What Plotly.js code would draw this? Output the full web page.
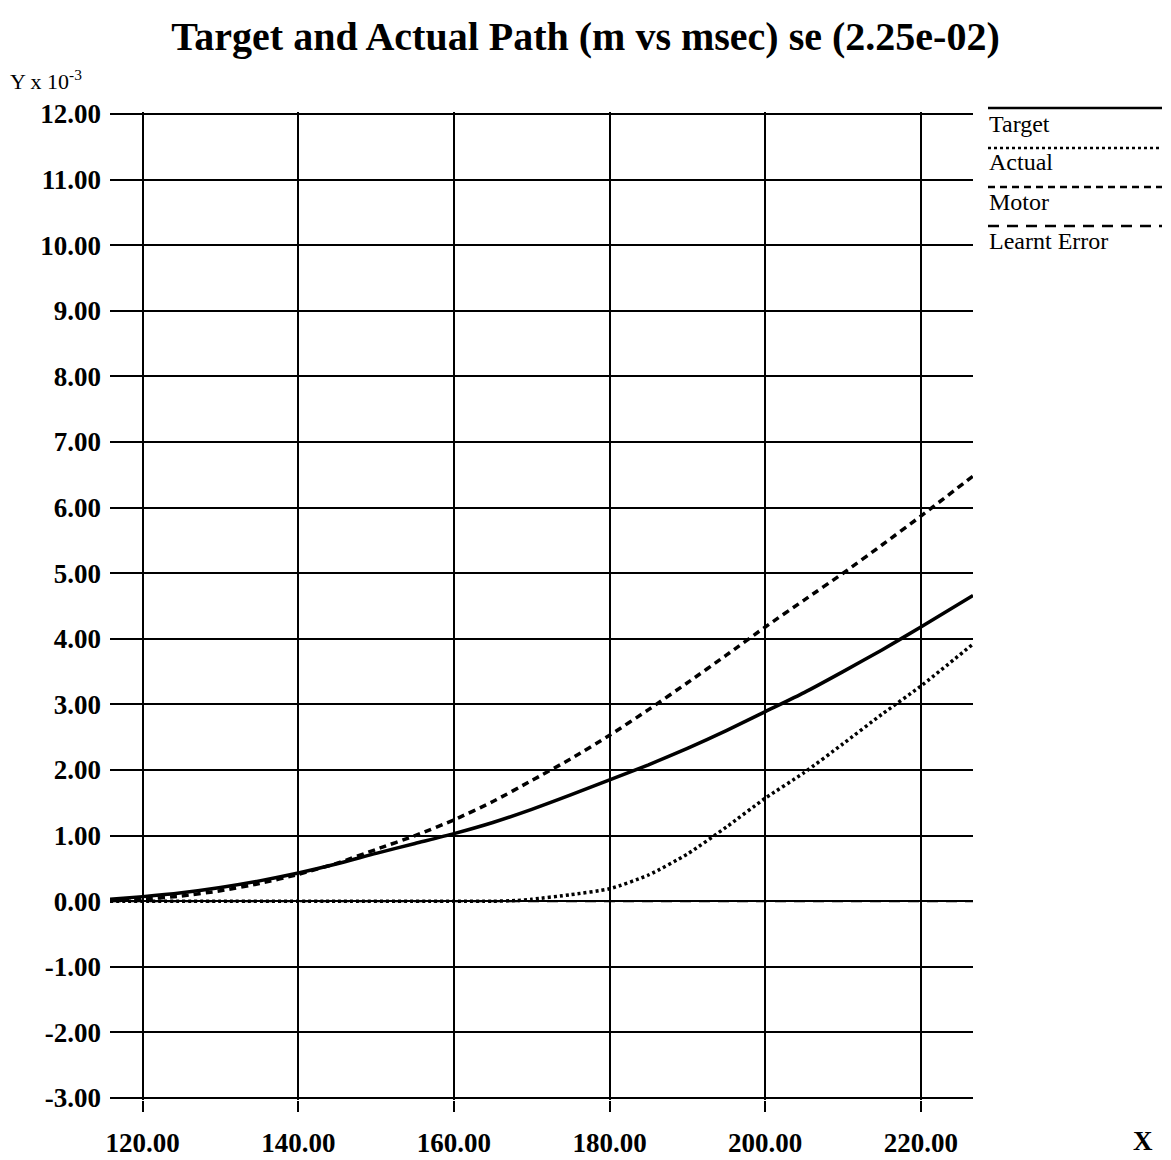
<!DOCTYPE html>
<html>
<head>
<meta charset="utf-8">
<script src="https://cdn.plot.ly/plotly-3.0.1.min.js"></script>
<style>html,body{margin:0;padding:0;background:#fff;}</style>
</head>
<body>
<div id="chart" style="width:1171px;height:1160px;"></div>
<script>
// ---- data ----
const targetX = [115.8, 120, 125, 130, 135, 140, 145, 150, 155, 160, 165, 170, 175, 180, 185, 190, 195, 200, 205, 210, 215, 220, 226.7];
const targetY = [0.03, 0.07, 0.13, 0.21, 0.31, 0.43, 0.57, 0.73, 0.88, 1.03, 1.20, 1.40, 1.62, 1.85, 2.08, 2.33, 2.60, 2.89, 3.18, 3.50, 3.83, 4.18, 4.66];

const actualX = [115.8, 130, 145, 160, 165, 168, 170, 175, 180, 185, 190, 195, 200, 205, 210, 215, 220, 226.7];
const actualY = [0.00, 0.00, 0.00, 0.00, 0.00, 0.01, 0.03, 0.10, 0.19, 0.40, 0.72, 1.13, 1.57, 1.96, 2.40, 2.85, 3.28, 3.92];

const motorX = [115.8, 120, 125, 130, 135, 140, 145, 150, 155, 160, 165, 170, 175, 180, 185, 190, 195, 200, 205, 210, 215, 220, 226.7];
const motorY = [0.01, 0.03, 0.08, 0.16, 0.27, 0.41, 0.58, 0.79, 1.00, 1.24, 1.52, 1.84, 2.17, 2.53, 2.92, 3.33, 3.75, 4.18, 4.59, 5.00, 5.43, 5.87, 6.48];

const learntX = [115.8, 226.7];
const learntY = [0.00, 0.00];

const xTickVals = [120, 140, 160, 180, 200, 220];
const yTickVals = [-3, -2, -1, 0, 1, 2, 3, 4, 5, 6, 7, 8, 9, 10, 11, 12];
const legendNames = ["Target", "Actual", "Motor", "Learnt Error"];
const legendDashes = ["solid", "3px,3px", "7px,5px", "11px,8px"];
const titleText = "Target and Actual Path (m vs msec) se (2.25e-02)";

// ---- layout geometry (pixels) ----
const W = 1171, H = 1160;
const yLo = -3.03, yHi = 12.03;           // small pad so edge gridlines are drawn
const pxPerY = 65.6;
const L = 110, R = 973;
const T = Math.round(114 - (yHi - 12) * pxPerY);
const B = Math.round(1098 + (-3 - yLo) * pxPerY);
const xp = px => (px - L) / (R - L);
const yp = py => (B - py) / (B - T);

const serif = "Liberation Serif, Times New Roman, serif";

const lineStyle = (dash, w) => ({color: "#000", width: w, dash: dash});
const traces = [
  {x: learntX, y: learntY, mode: "lines", name: legendNames[3], line: lineStyle(legendDashes[3], 2), hoverinfo: "skip"},
  {x: actualX, y: actualY, mode: "lines", name: legendNames[1], line: Object.assign(lineStyle(legendDashes[1], 3.5), {shape: "spline", smoothing: 0.6}), hoverinfo: "skip"},
  {x: motorX, y: motorY, mode: "lines", name: legendNames[2], line: Object.assign(lineStyle(legendDashes[2], 3.5), {shape: "spline", smoothing: 0.6}), hoverinfo: "skip"},
  {x: targetX, y: targetY, mode: "lines", name: legendNames[0], line: Object.assign(lineStyle(legendDashes[0], 3.5), {shape: "spline", smoothing: 0.6}), hoverinfo: "skip"}
];

// legend drawn as shapes + annotations to copy the reference style
const legLineY = [108, 148, 187, 226];
const legTextY = [124, 162, 202, 241];
const shapes = [];
const annotations = [];
legendNames.forEach((n, i) => {
  shapes.push({type: "line", xref: "paper", yref: "paper",
    x0: xp(988), x1: xp(1162), y0: yp(legLineY[i]), y1: yp(legLineY[i]),
    line: {color: "#000", width: 2.5, dash: legendDashes[i]}});
  annotations.push({xref: "paper", yref: "paper", x: xp(987), y: yp(legTextY[i]),
    xanchor: "left", yanchor: "middle", showarrow: false, text: n,
    font: {family: serif, size: 24, color: "#000"}});
});
annotations.push({xref: "paper", yref: "paper", x: xp(8), y: yp(80),
  xanchor: "left", yanchor: "middle", showarrow: false,
  text: "Y x 10<sup>-3</sup>", font: {family: serif, size: 22, color: "#000"}});
annotations.push({xref: "paper", yref: "paper", x: xp(1143), y: yp(1141),
  xanchor: "center", yanchor: "middle", showarrow: false,
  text: "<b>X</b>", font: {family: serif, size: 27, color: "#000"}});

const layout = {
  width: W, height: H,
  margin: {l: L, r: W - R, t: T, b: H - B, pad: 0},
  paper_bgcolor: "#fff", plot_bgcolor: "#fff",
  showlegend: false,
  title: {text: "<b>" + titleText + "</b>", x: 0.5, xref: "container", xanchor: "center",
    y: 1 - 36 / H, yref: "container", yanchor: "middle",
    font: {family: serif, size: 40, color: "#000"}},
  xaxis: {range: [115.8, 226.7], tickvals: xTickVals, ticktext: xTickVals.map(v => v.toFixed(2)),
    showgrid: true, gridcolor: "#000", gridwidth: 2, zeroline: false, showline: false,
    ticks: "outside", ticklen: 11, tickwidth: 2, tickcolor: "#000",
    ticklabelstandoff: 8,
    tickfont: {family: serif, size: 27, color: "#000", weight: "bold"}},
  yaxis: {range: [yLo, yHi], tickvals: yTickVals, ticktext: yTickVals.map(v => v.toFixed(2)),
    showgrid: true, gridcolor: "#000", gridwidth: 2, zeroline: false, showline: false,
    ticks: "", ticklabelstandoff: 8,
    tickfont: {family: serif, size: 27, color: "#000", weight: "bold"}},
  shapes: shapes,
  annotations: annotations
};

Plotly.newPlot("chart", traces, layout, {displayModeBar: false, staticPlot: true});
</script>
</body>
</html>
